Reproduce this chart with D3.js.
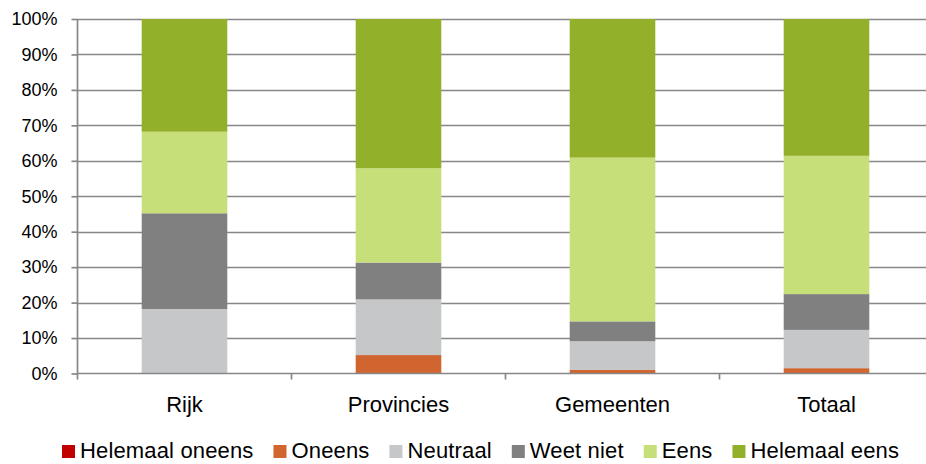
<!DOCTYPE html>
<html>
<head>
<meta charset="utf-8">
<script src="https://cdn.jsdelivr.net/npm/d3@7"></script>
<style>
  html, body { margin: 0; padding: 0; background: #fff; overflow: hidden; }
  svg { display: block; }
  text { font-family: "Liberation Sans", Arial, sans-serif; fill: #000; }
</style>
</head>
<body>
<svg id="chart" width="926" height="464"></svg>
<script>
const categories = ["Rijk", "Provincies", "Gemeenten", "Totaal"];
const seriesNames = ["Helemaal oneens", "Oneens", "Neutraal", "Weet niet", "Eens", "Helemaal eens"];
const helemaalOneens = [0, 0, 0, 0];
const oneens = [0, 5.2, 1.0, 1.5];
const neutraal = [18.2, 15.7, 8.1, 10.8];
const weetNiet = [27.0, 10.4, 5.6, 10.1];
const eens = [23.0, 26.6, 46.2, 39.0];
const helemaalEens = [31.8, 42.1, 39.1, 38.6];
const yTicks = [0, 10, 20, 30, 40, 50, 60, 70, 80, 90, 100];
const colors = ["#C00000", "#D0652F", "#C6C7C9", "#808080", "#C6DF79", "#93B02A"];

const seriesValues = [helemaalOneens, oneens, neutraal, weetNiet, eens, helemaalEens];
const rows = categories.map((c, i) => {
  const r = { cat: c };
  seriesNames.forEach((s, k) => r[s] = seriesValues[k][i]);
  return r;
});
const stacked = d3.stack().keys(seriesNames)(rows);

const svg = d3.select("#chart");
const pLeft = 77.5, pRight = 933.5, pTop = 19, pBottom = 373.5;

const x = d3.scaleBand().domain(categories).range([pLeft, pRight]).paddingInner(0.6).paddingOuter(0.3);
const xCat = d3.scaleBand().domain(categories).range([pLeft, pRight]).padding(0);
const y = d3.scaleLinear().domain([0, 100]).range([pBottom, pTop]);

// gridlines
svg.append("g").selectAll("line").data(yTicks.filter(t => t > 0)).join("line")
  .attr("x1", pLeft).attr("x2", 926)
  .attr("y1", d => Math.round(y(d)) + 0.5).attr("y2", d => Math.round(y(d)) + 0.5)
  .attr("stroke", "#878787").attr("stroke-width", 1.7);

// bars
svg.append("g").selectAll("g").data(stacked).join("g")
  .attr("fill", (d, i) => colors[i])
  .selectAll("rect").data(d => d).join("rect")
  .attr("x", d => x(d.data.cat))
  .attr("width", x.bandwidth())
  .attr("y", d => y(d[1]))
  .attr("height", d => Math.max(0, y(d[0]) - y(d[1])));

// y axis
const yAxis = d3.axisLeft(y).tickValues(yTicks).tickFormat(d => d + "%").tickSize(6).tickPadding(14);
const gy = svg.append("g").attr("transform", `translate(${pLeft},0)`).call(yAxis);
gy.select(".domain").attr("stroke", "#878787").attr("stroke-width", 1.7).attr("d", `M0,${pTop}V${pBottom}`);
gy.selectAll(".tick line").attr("stroke", "#878787").attr("stroke-width", 1.7);
gy.selectAll(".tick text").attr("font-size", 18).attr("font-family", "Liberation Sans, Arial, sans-serif").attr("fill", "#000");

// x axis
const gx = svg.append("g").attr("transform", `translate(0,${pBottom})`);
gx.append("line").attr("x1", pLeft).attr("x2", 926).attr("y1", 0).attr("y2", 0)
  .attr("stroke", "#878787").attr("stroke-width", 1.7);
const tickXs = categories.map(c => xCat(c)).concat([xCat(categories[categories.length - 1]) + xCat.bandwidth()]);
gx.selectAll("line.tk").data(tickXs).join("line").attr("class", "tk")
  .attr("x1", d => d).attr("x2", d => d).attr("y1", 0).attr("y2", 6)
  .attr("stroke", "#878787").attr("stroke-width", 1.7);
gx.selectAll("text").data(categories).join("text")
  .attr("x", d => xCat(d) + xCat.bandwidth() / 2)
  .attr("y", 38)
  .attr("text-anchor", "middle")
  .attr("font-size", 22)
  .text(d => d);

// legend
const lg = svg.append("g").attr("transform", "translate(62,0)");
let cx = 0;
seriesNames.forEach((s, i) => {
  const g = lg.append("g").attr("transform", `translate(${cx},0)`);
  g.append("rect").attr("x", 0).attr("y", 445).attr("width", 13).attr("height", 13).attr("fill", colors[i]);
  const t = g.append("text").attr("x", 18).attr("y", 458).attr("font-size", 22)
    .attr("letter-spacing", 0.15).text(s);
  cx += 18 + t.node().getComputedTextLength() + 20;
});
</script>
</body>
</html>
